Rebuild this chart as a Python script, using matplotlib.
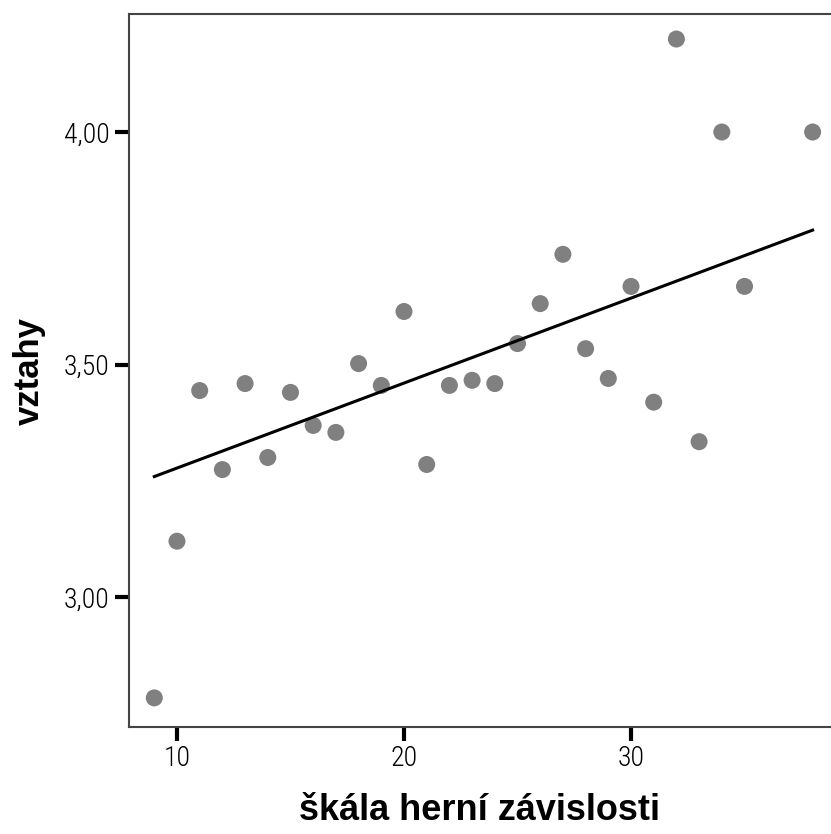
import numpy as np
import matplotlib
matplotlib.use("Agg")
import matplotlib.pyplot as plt
from matplotlib.ticker import FuncFormatter

# škála herní závislosti vs. vztahy
score = [9, 10, 11, 12, 13, 14, 15, 16, 17, 18, 19, 20, 21, 22, 23, 24, 25,
         26, 27, 28, 29, 30, 31, 32, 33, 34, 35, 38]
vztahy = [2.783, 3.12, 3.444, 3.274, 3.459, 3.30, 3.44, 3.369, 3.354, 3.502,
          3.455, 3.614, 3.285, 3.455, 3.466, 3.459, 3.545, 3.631, 3.737, 3.534,
          3.47, 3.668, 3.419, 4.20, 3.334, 4.00, 3.668, 4.00]
# fit line as drawn in the original
fit_x = [9, 38]
fit_y = [3.259, 3.789]
xticks = [10, 20, 30]
yticks = [3.0, 3.5, 4.0]

fig = plt.figure(figsize=(8.31, 8.34), dpi=100)
ax = fig.add_axes([0.1552, 0.1283, 0.8448, 0.8549])

ax.scatter(score, vztahy, s=150, color="#808080", edgecolors="none", zorder=2)
ax.plot(fit_x, fit_y, color="black", lw=2.2, zorder=3)

ax.set_xlim(7.885, 38.81)
ax.set_ylim(2.7204, 4.2538)
ax.set_xticks(xticks)
ax.set_yticks(yticks)
ax.yaxis.set_major_formatter(FuncFormatter(lambda v, p: f"{v:.2f}".replace(".", ",")))

for s in ["left", "bottom", "top"]:
    ax.spines[s].set_color("#444444")
    ax.spines[s].set_linewidth(1.5)
ax.spines["right"].set_visible(False)

ax.tick_params(direction="out", length=10, width=3, color="black")
ax.tick_params(axis="x", pad=3)
ax.tick_params(axis="y", pad=4)
for lab in ax.get_xticklabels() + ax.get_yticklabels():
    lab.set_fontfamily(["Roboto Condensed", "DejaVu Sans"])
    lab.set_fontweight(300)
    lab.set_fontsize(20)

ax.set_xlabel("škála herní závislosti", fontsize=26, fontweight="bold",
              family=["Liberation Sans", "DejaVu Sans"], labelpad=15)
ax.set_ylabel("vztahy", fontsize=25, fontweight="bold",
              family=["Liberation Sans", "DejaVu Sans"], labelpad=13)

fig.savefig("out.png", dpi=100)
